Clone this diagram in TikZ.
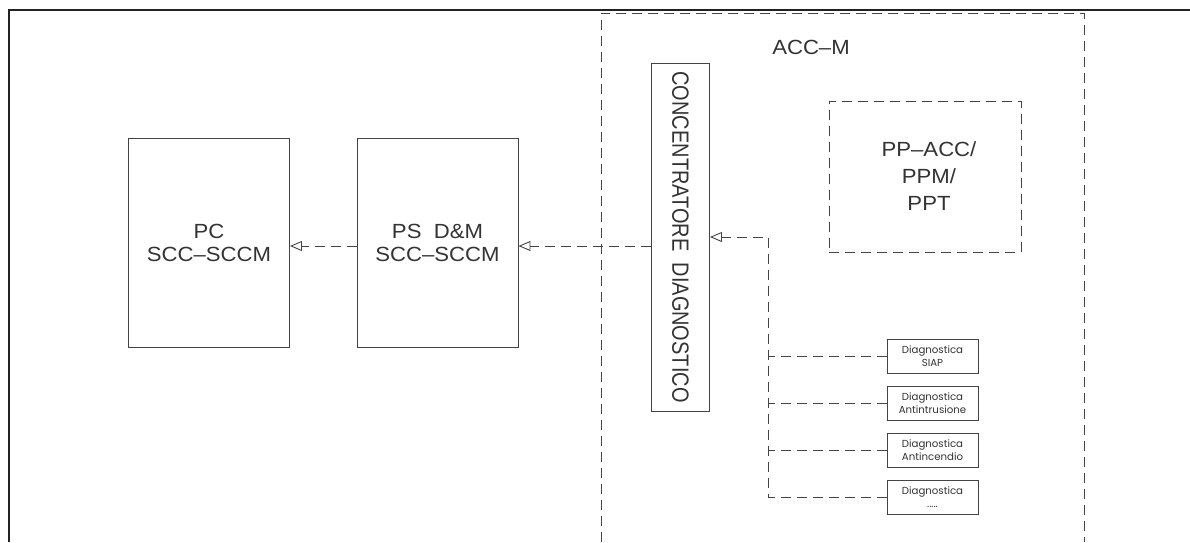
\documentclass[tikz,border=0pt]{standalone}
\usepackage{fontspec}
\setmainfont{Liberation Sans}[FakeStretch=1.08]
\newfontfamily\condfont{Liberation Sans}[FakeStretch=0.85]
\newfontfamily\diagfont{Poppins}
\usetikzlibrary{arrows.meta}
\definecolor{ink}{HTML}{444444}
\definecolor{txt}{HTML}{333333}
\definecolor{frame}{HTML}{222222}
\tikzset{
  box/.style={draw=ink, line width=0.9pt, rectangle, inner sep=0pt, text=txt, align=center},
  dbox/.style={box, dash pattern=on 10pt off 6pt},
  dline/.style={draw=ink, line width=0.9pt, dash pattern=on 10pt off 6pt},
  arr/.style={-{Triangle[open, length=12pt, width=10pt, line width=0.9pt]}},
  cad/.style={font=\fontsize{20.5}{23}\selectfont},
  diagbox/.style={box, minimum width=91pt, minimum height=34pt, font=\diagfont\fontsize{10.2}{13}\selectfont}
}
\begin{document}
\begin{tikzpicture}[x=1pt,y=-1pt]
\useasboundingbox (0,0) rectangle (1190,542);
% outer frame
\draw[frame, line width=2.2pt] (9,542) -- (9,10) -- (1190,10);
% ACC-M dashed region (open at bottom)
\draw[dline] (601,542) -- (601,13) -- (1084,13) -- (1084,542);
\node[text=txt, cad] (accm) at (811,47) {ACC–M};
% PP-ACC box
\node[dbox, minimum width=192pt, minimum height=151pt, font=\fontsize{20.5}{27}\selectfont] (pp) at (925,176.5) {\hspace*{8pt}PP–ACC/\\\hspace*{8pt}PPM/\\\hspace*{8pt}PPT};
% PC and PS boxes
\node[box, minimum width=161pt, minimum height=209pt, cad] (pc) at (209,242.5) {PC\\SCC–SCCM};
\node[box, minimum width=161pt, minimum height=209pt, cad] (ps) at (437.5,242.5) {PS\ \ D\&M\\SCC–SCCM};
% concentratore
\node[box, minimum width=58pt, minimum height=348pt] (conc) at (680.5,237) {};
\node[text=txt, rotate=-90, font=\condfont\fontsize{23.5}{25}\selectfont] (conct) at (conc.center) {CONCENTRATORE\ \ DIAGNOSTICO};
% diagnostic boxes
\node[diagbox] (d1) at (932.5,356) {Diagnostica\\SIAP};
\node[diagbox] (d2) at (932.5,403.5) {Diagnostica\\Antintrusione};
\node[diagbox] (d3) at (932.5,450.5) {Diagnostica\\Antincendio};
\node[diagbox] (d4) at (932.5,497.5) {Diagnostica\\.....};
% connectors
\coordinate (j) at (768,237);
\draw[dline, arr] (d4.west) -| (j) -- (conc.east |- j);
\draw[dline] (d1.west) -- (d1.west -| j);
\draw[dline] (d2.west) -- (d2.west -| j);
\draw[dline] (d3.west) -- (d3.west -| j);
\draw[dline, arr] (conc.west |- 0,246) -- (ps.east |- 0,246);
\draw[dline, arr] (ps.west |- 0,246) -- (pc.east |- 0,246);
\end{tikzpicture}
\end{document}
